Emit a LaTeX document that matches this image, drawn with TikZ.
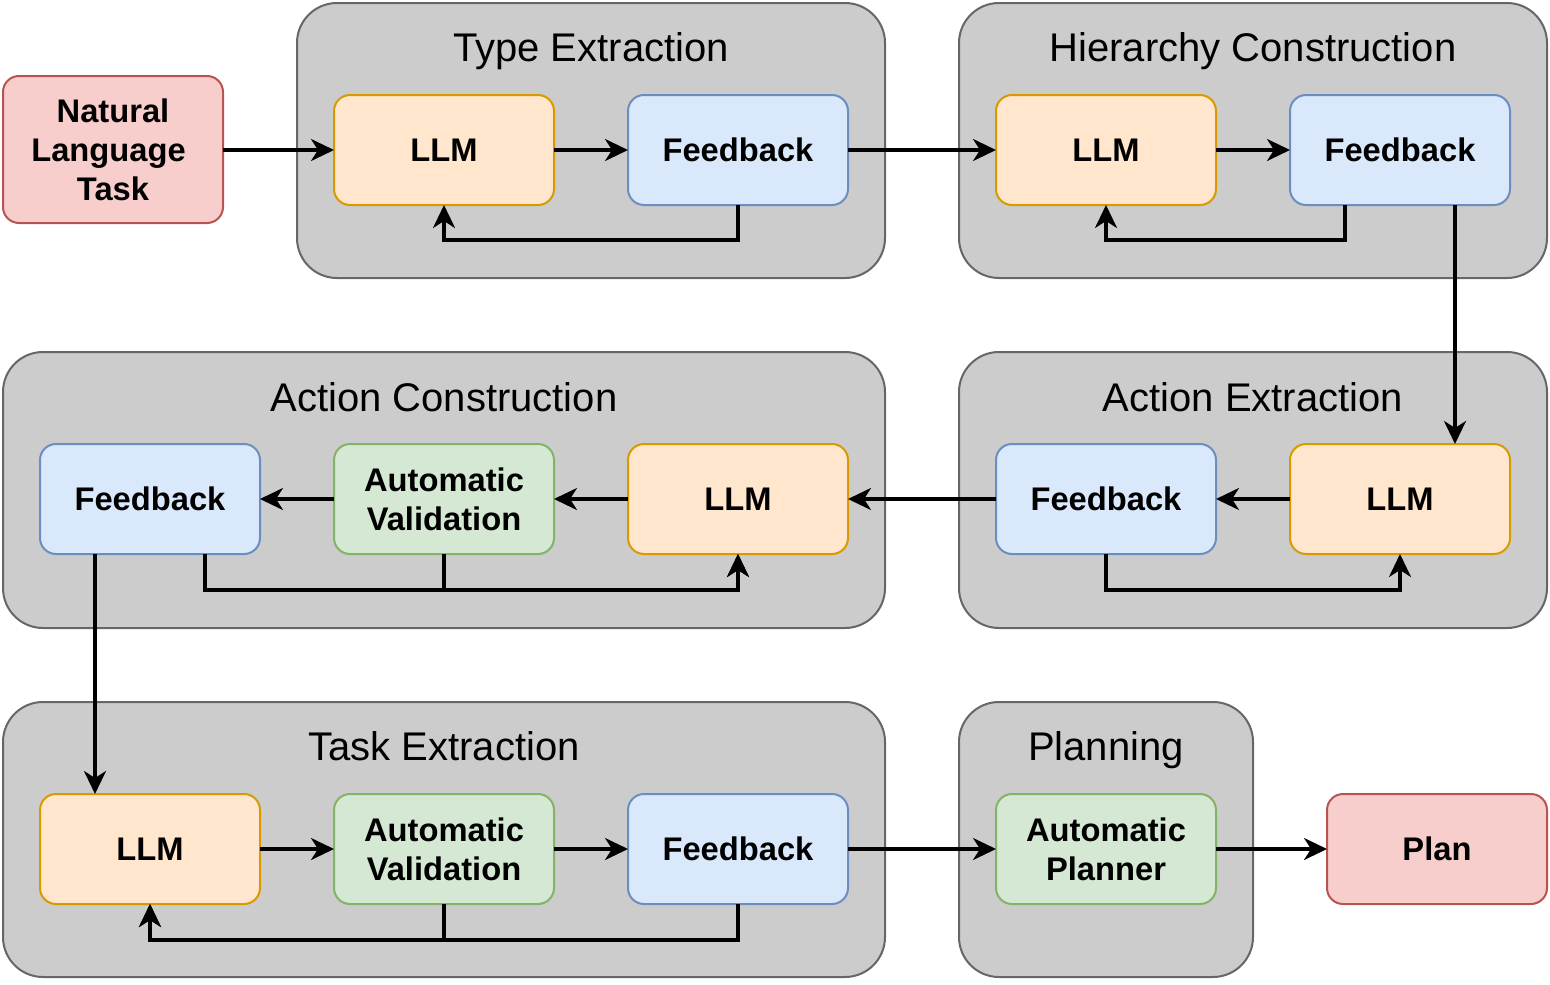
\documentclass[tikz,border=0pt]{standalone}
\usepackage{fontspec}
\setmainfont{Liberation Sans}
\usetikzlibrary{arrows.meta,calc}
\definecolor{gfill}{HTML}{CCCCCC}
\definecolor{gstroke}{HTML}{666666}
\definecolor{rfill}{HTML}{F8CECC}
\definecolor{rstroke}{HTML}{B85450}
\definecolor{ofill}{HTML}{FFE6CC}
\definecolor{ostroke}{HTML}{D79B00}
\definecolor{bfill}{HTML}{DAE8FC}
\definecolor{bstroke}{HTML}{6C8EBF}
\definecolor{gnfill}{HTML}{D5E8D4}
\definecolor{gnstroke}{HTML}{82B366}
\tikzset{
  grp/.style={draw=gstroke, fill=gfill, line width=2pt, rounded corners=40pt, inner sep=0pt, outer sep=0pt},
  ttl/.style={font=\fontsize{40}{48}\selectfont, anchor=base, inner sep=0pt},
  box/.style={rounded corners=16pt, line width=2pt, minimum width=220pt, minimum height=110pt, inner sep=0pt, outer sep=0pt, align=center, font=\bfseries\fontsize{32.7}{39}\selectfont},
  llmbox/.style={box, fill=ofill, draw=ostroke},
  fbbox/.style={box, fill=bfill, draw=bstroke},
  avbox/.style={box, fill=gnfill, draw=gnstroke},
  redbox/.style={box, fill=rfill, draw=rstroke},
  arr/.style={-{Stealth[length=23pt,width=22pt,inset=7pt]}, line width=3.3pt, black},
}
\begin{document}
\begin{tikzpicture}[x=1pt,y=-1pt]
\useasboundingbox (0,0) rectangle (1550,985);
% groups
\node[grp, minimum width=588pt, minimum height=275pt] (g1) at (591,140.5) {};
\node[grp, minimum width=588pt, minimum height=275pt] (g2) at (1253,140.5) {};
\node[grp, minimum width=882pt, minimum height=276pt] (g3) at (444,490) {};
\node[grp, minimum width=588pt, minimum height=276pt] (g4) at (1253,490) {};
\node[grp, minimum width=882pt, minimum height=275pt] (g5) at (444,839.5) {};
\node[grp, minimum width=294pt, minimum height=275pt] (g6) at (1106,839.5) {};
% titles
\node[ttl] (t1) at (591,61.5) {Type Extraction};
\node[ttl] (t2) at (1253,61.5) {Hierarchy Construction};
\node[ttl] (t3) at (444,411) {Action Construction};
\node[ttl] (t4) at (1253,411) {Action Extraction};
\node[ttl] (t5) at (444,760.5) {Task Extraction};
\node[ttl] (t6) at (1106,760.5) {Planning};
% outer boxes
\node[redbox, minimum height=147pt] (nl) at (113,149.5) {Natural\\Language\kern9pt\\Task};
\node[redbox] (plan) at (1437,849) {Plan};
% type extraction
\node[llmbox] (tl) at (444,150) {LLM};
\node[fbbox] (tf) at (738,150) {Feedback};
% hierarchy construction
\node[llmbox] (hl) at (1106,150) {LLM};
\node[fbbox] (hf) at (1400,150) {Feedback};
% action extraction
\node[fbbox] (ef) at (1106,499) {Feedback};
\node[llmbox] (el) at (1400,499) {LLM};
% action construction
\node[fbbox] (cf) at (150,499) {Feedback};
\node[avbox] (cv) at (444,499) {Automatic\\Validation};
\node[llmbox] (cl) at (738,499) {LLM};
% task extraction
\node[llmbox] (kl) at (150,849) {LLM};
\node[avbox] (kv) at (444,849) {Automatic\\Validation};
\node[fbbox] (kf) at (738,849) {Feedback};
% planning
\node[avbox] (pp) at (1106,849) {Automatic\\Planner};
% connectors
\draw[arr] (nl.east |- tl.west) -- (tl.west);
\draw[arr] (tl) -- (tf);
\draw[arr] (tf.south) -- ++(0,35) -| (tl.south);
\draw[arr] (tf) -- (hl);
\draw[arr] (hl) -- (hf);
\draw[arr] ($(hf.south west)!0.25!(hf.south east)$) -- ++(0,35) -| (hl.south);
\draw[arr] ($(hf.south west)!0.75!(hf.south east)$) -- ($(el.north west)!0.75!(el.north east)$);
\draw[arr] (el) -- (ef);
\draw[arr] (ef.south) -- ++(0,36) -| (el.south);
\draw[arr] (ef) -- (cl);
\draw[arr] (cl) -- (cv);
\draw[arr] (cv) -- (cf);
\draw[arr] ($(cf.south west)!0.75!(cf.south east)$) -- ++(0,36) -| (cl.south);
\draw[arr] (cv.south) -- ++(0,36) -| (cl.south);
\draw[arr] ($(cf.south west)!0.25!(cf.south east)$) -- ($(kl.north west)!0.25!(kl.north east)$);
\draw[arr] (kl) -- (kv);
\draw[arr] (kv) -- (kf);
\draw[arr] (kf.south) -- ++(0,36) -| (kl.south);
\draw[arr] (kv.south) -- ++(0,36) -| (kl.south);
\draw[arr] (kf) -- (pp);
\draw[arr] (pp) -- (plan);
\end{tikzpicture}
\end{document}
